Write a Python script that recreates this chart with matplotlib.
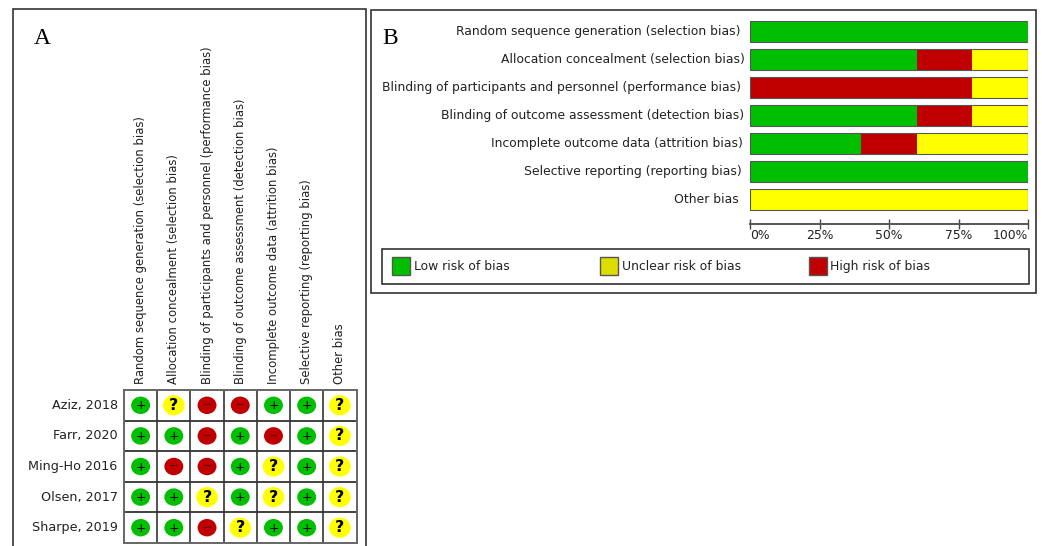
import matplotlib
matplotlib.use("Agg")
import matplotlib.pyplot as plt
from matplotlib.patches import Ellipse, Rectangle

W, H = 1042, 546

domains = ["Random sequence generation (selection bias)",
           "Allocation concealment (selection bias)",
           "Blinding of participants and personnel (performance bias)",
           "Blinding of outcome assessment (detection bias)",
           "Incomplete outcome data (attrition bias)",
           "Selective reporting (reporting bias)",
           "Other bias"]
studies = ["Aziz, 2018", "Farr, 2020", "Ming-Ho 2016", "Olsen, 2017", "Sharpe, 2019"]

# + low, ? unclear, - high
aziz = ["+", "?", "-", "-", "+", "+", "?"]
farr = ["+", "+", "-", "+", "-", "+", "?"]
ming = ["+", "-", "-", "+", "?", "+", "?"]
olsen = ["+", "+", "?", "+", "?", "+", "?"]
sharpe = ["+", "+", "-", "?", "+", "+", "?"]
judgements = [aziz, farr, ming, olsen, sharpe]

# percent of studies per domain, stacked in this order
low_pct = [100, 60, 0, 60, 40, 100, 0]
high_pct = [0, 20, 80, 20, 20, 0, 0]
unclear_pct = [0, 20, 20, 20, 40, 0, 100]

pct_ticks = [0, 25, 50, 75, 100]
legend_names = ["Low risk of bias", "Unclear risk of bias", "High risk of bias"]

GREEN = "#00bf00"
RED = "#c00000"
YELLOW = "#ffff00"
LEG_YELLOW = "#dddd00"
TXT = "#222222"
SANS = "DejaVu Sans"
FS_A = 8.35
FS_B = 8.9
FS_ROW = 9.2


def px_axes(x0, y0, x1, y1):
    # axes from pixel box, y measured from the top of the image
    return fig.add_axes([x0 / W, 1 - y1 / H, (x1 - x0) / W, (y1 - y0) / H])


def px_frame(x0, y0, x1, y1, ec="#333333", lw=1.2):
    fig.add_artist(Rectangle((x0 / W, 1 - y1 / H), (x1 - x0) / W, (y1 - y0) / H,
                             transform=fig.transFigure, fc="none", ec=ec, lw=lw))


def px_text(x, y, s, **kw):
    fig.text(x / W, 1 - y / H, s, **kw)


plt.rcParams["font.family"] = SANS
fig = plt.figure(figsize=(W / 100, H / 100), dpi=100, facecolor="white")

# panel frames
px_frame(12.5, 9, 366, 560)
px_frame(371, 9.5, 1036, 293)
px_frame(381.5, 249, 1029, 284)

px_text(34, 38, "A", family="Liberation Serif", fontsize=17, color="black", va="center")
px_text(382, 38.5, "B", family="Liberation Serif", fontsize=17, color="black", va="center")

# ---- panel A, judgement matrix
ax = px_axes(124, 390, 356.5, 543)
ax.set_xlim(0, len(domains))
ax.set_ylim(len(studies), 0)
ax.set_xticks([])
ax.set_yticks([])
for sp in ax.spines.values():
    sp.set_color("#666666")
    sp.set_linewidth(1.4)
for i in range(1, len(domains)):
    ax.axvline(i, color="#444444", lw=1.3)
for i in range(1, len(studies)):
    ax.axhline(i, color="#333333", lw=1.3)

for r, row in enumerate(judgements):
    for c, j in enumerate(row):
        x, y = c + 0.5, r + 0.5
        if j == "+":
            ax.add_patch(Ellipse((x, y), 0.57, 0.57, fc=GREEN, ec="none"))
            ax.text(x, y + 0.02, "+", ha="center", va="center", fontsize=9, color="black")
        elif j == "-":
            ax.add_patch(Ellipse((x, y), 0.57, 0.57, fc=RED, ec="none"))
            ax.text(x, y, "\u2212", ha="center", va="center", fontsize=8, color="#5a0808", zorder=5)
        else:
            ax.add_patch(Ellipse((x, y), 0.65, 0.66, fc=YELLOW, ec="none"))
            ax.text(x, y, "?", ha="center", va="center", fontsize=11.5, fontweight="bold", color="black")
    ax.annotate(studies[r], (0, r + 0.5), xytext=(-4.5, 0), textcoords="offset points",
                ha="right", va="center", fontsize=FS_ROW, color=TXT, annotation_clip=False)

for c, d in enumerate(domains):
    ax.annotate(d, (c + 0.5, 0), xytext=(0, 4.3), textcoords="offset points", rotation=90,
                ha="center", va="bottom", fontsize=FS_A, color=TXT, annotation_clip=False)

# ---- panel B, stacked bars
bx = px_axes(750, 17.4, 1028, 224)
bx.set_xlim(0, 100)
bx.set_ylim(6.88, -0.5)
bx.patch.set_alpha(0)
rows = list(range(len(domains)))
left_high = [a for a in low_pct]
left_unclear = [a + b for a, b in zip(low_pct, high_pct)]
bx.barh(rows, low_pct, height=0.76, color=GREEN)
bx.barh(rows, high_pct, left=left_high, height=0.76, color=RED)
bx.barh(rows, unclear_pct, left=left_unclear, height=0.76, color=YELLOW)
# thin dark outline round each bar
bx.barh(rows, [100] * len(rows), height=0.76, fill=False, edgecolor="#555555", linewidth=0.8)

for s in ["top", "left", "right"]:
    bx.spines[s].set_visible(False)
bx.spines["bottom"].set_color("#555555")
bx.spines["bottom"].set_linewidth(1.4)
bx.set_yticks([])
bx.set_xticks(pct_ticks)
bx.set_xticklabels([f"{p}%" for p in pct_ticks], fontsize=FS_B, color=TXT)
bx.tick_params(axis="x", direction="inout", length=6.5, width=1, color="#444444", pad=0.5)
lbls = bx.get_xticklabels()
lbls[0].set_ha("left")
lbls[-1].set_ha("right")

# the labels do not line up exactly on the right in the original
label_gap = [10, 5.5, 8.5, 6, 7, 8.5, 11.5]
for r, d in enumerate(domains):
    bx.annotate(d, (0, r), xytext=(-label_gap[r] * 0.72, 0), textcoords="offset points",
                ha="right", va="center", fontsize=FS_B, color=TXT, annotation_clip=False)

# legend strip
swatch_x = [392, 600, 808.5]
swatch_c = [GREEN, LEG_YELLOW, RED]
for x, c, name in zip(swatch_x, swatch_c, legend_names):
    fig.add_artist(Rectangle((x / W, 1 - 275 / H), 18 / W, 18 / H, transform=fig.transFigure,
                             fc=c, ec="#555555", lw=1))
    px_text(x + 22, 270, name, fontsize=FS_B, color=TXT, va="baseline", ha="left")

fig.savefig("out.png", dpi=100)
